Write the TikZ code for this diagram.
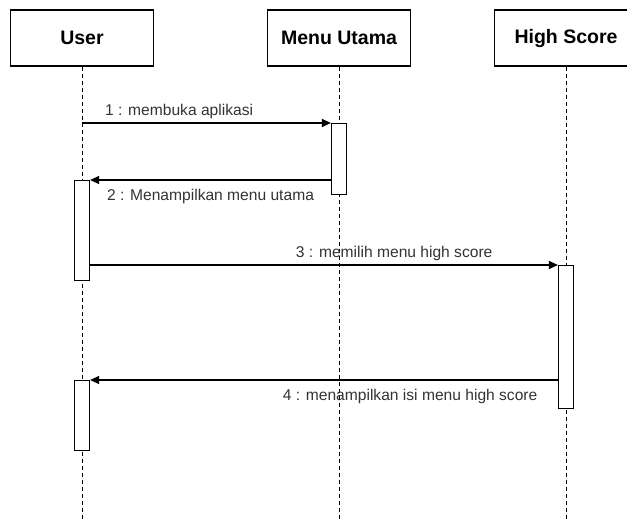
\documentclass[tikz,border=0pt]{standalone}
\usepackage{fontspec}
\setmainfont{Liberation Sans}
\usetikzlibrary{arrows.meta,positioning}

\begin{document}
\begin{tikzpicture}[x=1pt,y=-1pt,>={Triangle[length=9pt,width=8pt]},
    obj/.style={draw,line width=1.2pt,minimum width=143pt,minimum height=56pt,
        font=\fontsize{19.5}{23}\selectfont\bfseries},
    life/.style={dash pattern=on 4pt off 3pt,line width=0.9pt},
    act/.style={draw,fill=white,line width=1.2pt,minimum width=15pt,
        inner sep=0pt,anchor=north},
    msg/.style={->,line width=1.2pt},
    lbl/.style={font=\fontsize{15.6}{18}\selectfont,text=black!80,inner sep=0pt}]
        \useasboundingbox (0,0) rectangle (627,520);

        % objects
        \node[obj] (user) at (82,38)  {User};
        \node[obj] (menu) at (339,38) {Menu Utama};
        \node[obj] (high) at (566,38) {High Score};

        % lifelines
        \coordinate (userend) at (82,520);
        \coordinate (menuend) at (339,520);
        \coordinate (highend) at (566,520);
        \draw[life] (user) -- (userend);
        \draw[life] (menu) -- (menuend);
        \draw[life] (high) -- (highend);

        % activations
        \node[act,minimum height=71pt]  (menuact) at (339,123) {};
        \node[act,minimum height=100pt] (useract) at (82,180)  {};
        \node[act,minimum height=143pt] (highact) at (566,265) {};
        \node[act,minimum height=70pt]  (useract2) at (82,380) {};

        % messages
        \coordinate (m1) at (82,123);
        \draw[msg] (m1) -- node[lbl,pos=0.39,above=4pt] {1 : membuka aplikasi} (menuact.north west);
        \draw[msg] (menuact.west |- useract.north) -- node[lbl,pos=0.5,below=9pt] {2 : Menampilkan menu utama} (useract.north east);
        \draw[msg] (useract.east |- highact.north) -- node[lbl,pos=0.65,above=4pt] {3 : memilih menu high score} (highact.north west);
        \draw[msg] (highact.west |- useract2.north) -- node[lbl,pos=0.316,below=9pt] {4 : menampilkan isi menu high score} (useract2.north east);
    \end{tikzpicture}
\end{document}
